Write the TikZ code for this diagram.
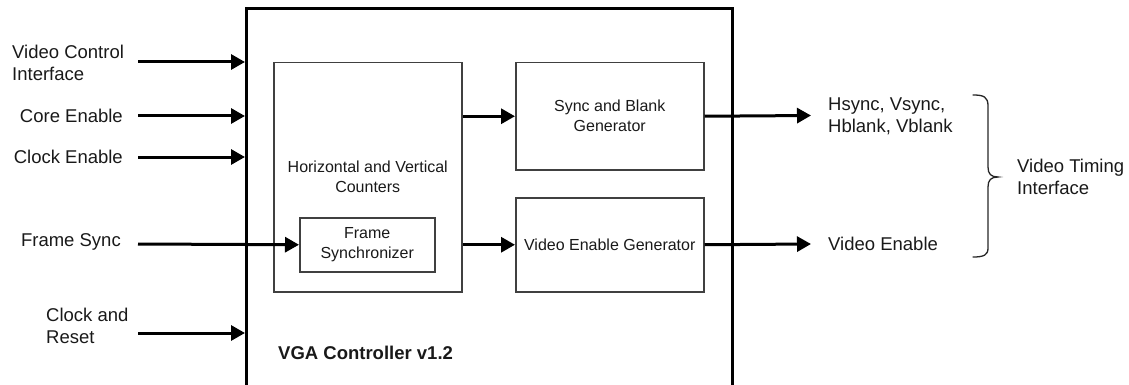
\documentclass[tikz,border=0pt]{standalone}
\usepackage{fontspec}
\setmainfont{Liberation Sans}
\usetikzlibrary{arrows.meta}
\tikzset{
  lbl/.style={inner sep=0pt, font=\fontsize{18.5pt}{22pt}\selectfont, text=black!90},
  inlbl/.style={font=\fontsize{16pt}{20pt}\selectfont, text=black!90, align=center},
  outerbox/.style={draw=black, line width=3pt, inner sep=0pt, anchor=north west},
  blk/.style={draw=black!75, line width=1.5pt, inner sep=0pt, anchor=north west},
  sig/.style={line width=3pt, -{Triangle[length=14pt,width=15pt]}},
}
\begin{document}
\begin{tikzpicture}[x=1pt,y=-1pt]
\useasboundingbox (0,0) rectangle (1129,385);
% boxes
\node[outerbox, minimum width=486pt, minimum height=380pt] (outer) at (245,7) {};
\node[blk, minimum width=188pt, minimum height=229pt] (hv) at (273,62) {};
\node[inlbl] (hvt) at (hv.center) {Horizontal and Vertical\\Counters};
\node[blk, minimum width=135pt, minimum height=54pt, fill=white] (fs) at (299,217) {};
\node[inlbl] (fst) at (fs.center) {Frame\\Synchronizer};
\node[blk, minimum width=188pt, minimum height=107pt] (sbg) at (515,62) {};
\node[inlbl] (sbgt) at (sbg.center) {Sync and Blank\\Generator};
\node[blk, minimum width=188pt, minimum height=94pt] (veg) at (515,197) {};
\node[inlbl] (vegt) at (veg.center) {Video Enable Generator};
\node[lbl, anchor=west, font=\fontsize{18.5pt}{22pt}\selectfont\bfseries] (title) at (278,353) {VGA Controller v1.2};
% left labels
\node[lbl, anchor=west, align=left] (l1) at (12,62.5) {Video Control\\Interface};
\node[lbl, anchor=east] (l2) at (123,116) {Core Enable};
\node[lbl, anchor=east] (l3) at (123,157) {Clock Enable};
\node[lbl, anchor=east] (l4) at (121,242) {Frame Sync};
\node[lbl, anchor=west, align=left] (l5) at (46,325.5) {Clock and\\Reset};
% input start points
\coordinate (s1) at (138,62);
\coordinate (s2) at (138,116);
\coordinate (s3) at (138,157);
\coordinate (s4) at (138,244);
\coordinate (s5) at (138,333);
\draw[sig] (s1) -- (s1 -| outer.west);
\draw[sig] (s2) -- (s2 -| outer.west);
\draw[sig] (s3) -- (s3 -| outer.west);
\draw[sig] (s4) -- (fs.west);
\draw[sig] (s5) -- (s5 -| outer.west);
% internal
\draw[sig] (hv.east |- sbg.west) -- (sbg.west);
\draw[sig] (hv.east |- veg.west) -- (veg.west);
% outputs
\coordinate (o1) at (811,115.5);
\coordinate (o2) at (811,244);
\draw[sig] (sbg.east) -- (o1);
\draw[sig] (veg.east) -- (o2);
% right labels
\node[lbl, anchor=west, align=left] (r1) at (828,116.5) {Hsync, Vsync,\\Hblank, Vblank};
\node[lbl, anchor=west] (r2) at (828,244) {Video Enable};
\node[lbl, anchor=west, align=left] (r3) at (1017,177) {Video Timing\\Interface};
% brace
\draw[line width=1.3pt, black!85, line cap=round]
  (973,95) .. controls (984,95) and (988,97) .. (988,106)
  -- (988,167) .. controls (988,174) and (991,177) .. (998,177)
  .. controls (991,177) and (988,180) .. (988,187)
  -- (988,248) .. controls (988,255) and (984,257) .. (973,257);
\end{tikzpicture}
\end{document}
